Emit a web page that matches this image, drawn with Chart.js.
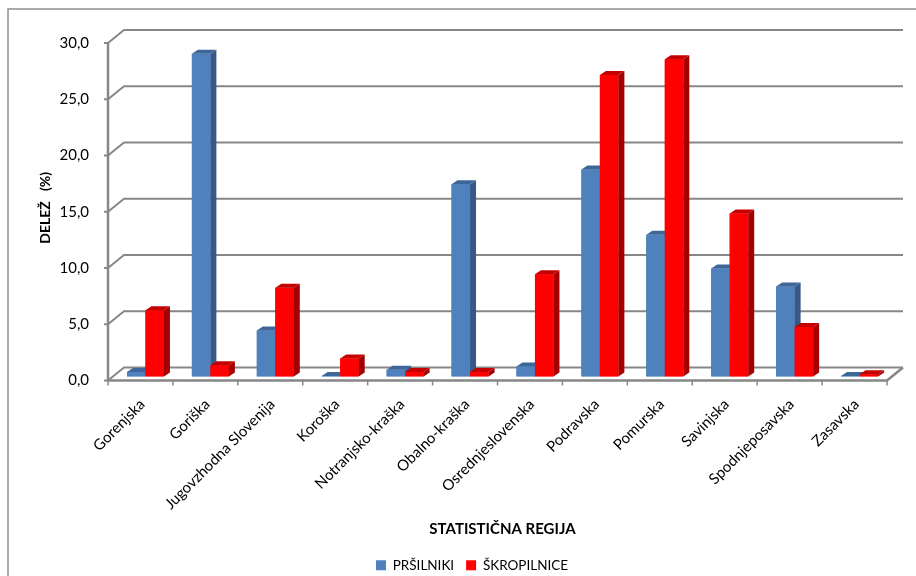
<!DOCTYPE html>
<html>
<head>
<meta charset="utf-8">
<script src="https://cdn.jsdelivr.net/npm/chart.js@4.4.1/dist/chart.umd.min.js"></script>
<style>
    html, body { margin: 0; padding: 0; background: #ffffff; }
    #wrap { width: 916px; height: 576px; }
</style>
</head>
<body>
<div id="wrap"><canvas id="chartCanvas" width="916" height="576"></canvas></div>
<script>
const regions = ['Gorenjska', 'Goriška', 'Jugovzhodna Slovenija', 'Koroška', 'Notranjsko-kraška',
    'Obalno-kraška', 'Osrednjeslovenska', 'Podravska', 'Pomurska', 'Savinjska',
    'Spodnjeposavska', 'Zasavska'];
const prsilniki = [0.4, 28.7, 4.1, 0.05, 0.6, 17.1, 0.9, 18.4, 12.6, 9.6, 8.0, 0.05];
const skropilnice = [5.9, 1.0, 7.9, 1.6, 0.4, 0.4, 9.1, 26.8, 28.2, 14.5, 4.4, 0.2];
const seriesNames = ['PRŠILNIKI', 'ŠKROPILNICE'];
const yTicks = [0, 5, 10, 15, 20, 25, 30];

const FONT = 'Lato, "Open Sans", sans-serif';
const FRONT = { dx: -5, dy: 4 };   // front wall relative to bar face
const BACK = { dx: 11, dy: -9 };   // back wall relative to bar face
const BAR_DEPTH = { dx: 6, dy: -4 };
const WALL = '#878787';
const LEGEND_SHIFT = { dx: 26, dy: 6 };

const faceColors = [
    { front: '#4F81BD', side: '#37598A', top: '#3E6698' },
    { front: '#FF0000', side: '#A50000', top: '#C40000' }
];

function poly(ctx, pts, color) {
    ctx.beginPath();
    ctx.moveTo(pts[0][0], pts[0][1]);
    for (let i = 1; i < pts.length; i++) ctx.lineTo(pts[i][0], pts[i][1]);
    ctx.closePath();
    ctx.fillStyle = color;
    ctx.fill();
}

const wallsPlugin = {
    id: 'walls',
    afterLayout(chart) {
        // nudge the legend to where the original sits
        const lg = chart.legend;
        if (!lg) return;
        lg.left += LEGEND_SHIFT.dx;
        lg.right += LEGEND_SHIFT.dx;
        lg.top += LEGEND_SHIFT.dy;
        lg.bottom += LEGEND_SHIFT.dy;
    },
    beforeDatasetsDraw(chart) {
        const ctx = chart.ctx;
        const ca = chart.chartArea;
        const ys = chart.scales.y;
        ctx.save();

        // outer frame (cut off at right and bottom in the original)
        ctx.strokeStyle = '#8f8f8f';
        ctx.lineWidth = 1.5;
        ctx.beginPath();
        ctx.moveTo(8, 580);
        ctx.lineTo(8, 9);
        ctx.lineTo(920, 9);
        ctx.stroke();

        ctx.strokeStyle = WALL;
        ctx.lineWidth = 2;
        // back gridlines + left wall diagonals
        yTicks.forEach(v => {
            const y = ys.getPixelForValue(v);
            ctx.beginPath();
            ctx.moveTo(ca.left + FRONT.dx, y + FRONT.dy);
            ctx.lineTo(ca.left + BACK.dx, y + BACK.dy);
            ctx.lineTo(ca.right + BACK.dx, y + BACK.dy);
            ctx.stroke();
            // tick mark on the front axis
            ctx.beginPath();
            ctx.moveTo(ca.left + FRONT.dx - 4, y + FRONT.dy);
            ctx.lineTo(ca.left + FRONT.dx, y + FRONT.dy);
            ctx.stroke();
        });

        // front value axis
        const y0 = ys.getPixelForValue(0);
        const yTop = ys.getPixelForValue(30);
        ctx.lineWidth = 2.5;
        ctx.beginPath();
        ctx.moveTo(ca.left + FRONT.dx, yTop + FRONT.dy);
        ctx.lineTo(ca.left + FRONT.dx, y0 + FRONT.dy);
        // floor front edge and right diagonal
        ctx.lineTo(ca.right + FRONT.dx, y0 + FRONT.dy);
        ctx.lineTo(ca.right + BACK.dx, y0 + BACK.dy);
        ctx.stroke();

        // category tick marks on the floor edge
        ctx.lineWidth = 1.5;
        const step = (ca.right - ca.left) / regions.length;
        for (let i = 0; i <= regions.length; i++) {
            const x = ca.left + FRONT.dx + i * step;
            ctx.beginPath();
            ctx.moveTo(x, y0 + FRONT.dy);
            ctx.lineTo(x, y0 + FRONT.dy + 5);
            ctx.stroke();
        }
        ctx.restore();
    },
    afterDatasetsDraw(chart) {
        const ctx = chart.ctx;
        const metas = [chart.getDatasetMeta(0), chart.getDatasetMeta(1)];
        ctx.save();
        for (let i = 0; i < regions.length; i++) {
            metas.forEach((meta, d) => {
                const bar = meta.data[i];
                const c = faceColors[d];
                const l = bar.x - bar.width / 2;
                const r = bar.x + bar.width / 2;
                const t = Math.min(bar.y, bar.base);
                const b = Math.max(bar.y, bar.base);
                poly(ctx, [[l, t], [r, t], [r, b], [l, b]], c.front);
                poly(ctx, [[r, t], [r + BAR_DEPTH.dx, t + BAR_DEPTH.dy],
                    [r + BAR_DEPTH.dx, b + BAR_DEPTH.dy], [r, b]], c.side);
                poly(ctx, [[l, t], [l + BAR_DEPTH.dx, t + BAR_DEPTH.dy],
                    [r + BAR_DEPTH.dx, t + BAR_DEPTH.dy], [r, t]], c.top);
            });
        }
        ctx.restore();
    }
};

const ctx = document.getElementById('chartCanvas').getContext('2d');
const chartInstance = new Chart(ctx, {
    type: 'bar',
    data: {
        labels: regions,
        datasets: [{
            label: seriesNames[0],
            data: prsilniki,
            backgroundColor: faceColors[0].front,
            borderWidth: 0
        }, {
            label: seriesNames[1],
            data: skropilnice,
            backgroundColor: faceColors[1].front,
            borderWidth: 0
        }]
    },
    options: {
        responsive: false,
        animation: false,
        categoryPercentage: 0.57,
        barPercentage: 1,
        layout: { padding: { left: 0, right: 24, top: 39, bottom: 0 } },
        plugins: {
            tooltip: { enabled: false },
            legend: {
                display: true,
                position: 'bottom',
                labels: {
                    boxWidth: 10,
                    boxHeight: 10,
                    padding: 12,
                    color: '#000000',
                    font: { family: FONT, size: 13.5 }
                }
            }
        },
        scales: {
            x: {
                grid: { display: false },
                border: { display: false },
                ticks: {
                    minRotation: 45,
                    maxRotation: 45,
                    padding: 11,
                    labelOffset: -3,
                    color: '#000000',
                    font: { family: FONT, size: 15 }
                },
                title: {
                    display: true,
                    text: 'STATISTIČNA REGIJA',
                    color: '#000000',
                    padding: { top: 0, bottom: 2 },
                    font: { family: FONT, size: 15, weight: 'bold' }
                },
                afterFit(scale) { scale.height = 164; }
            },
            y: {
                min: 0,
                max: 30,
                grid: { display: false },
                border: { display: false },
                ticks: {
                    stepSize: 5,
                    padding: 16,
                    labelOffset: 4,
                    color: '#000000',
                    font: { family: FONT, size: 15 },
                    callback: v => v.toFixed(1).replace('.', ',')
                },
                title: {
                    display: true,
                    text: 'DELEŽ   (%)',
                    color: '#000000',
                    padding: { top: 37, bottom: 0 },
                    font: { family: FONT, size: 14, weight: 'bold' }
                },
                afterFit(scale) { scale.width = 113; }
            }
        }
    },
    plugins: [wallsPlugin]
});
</script>
</body>
</html>
